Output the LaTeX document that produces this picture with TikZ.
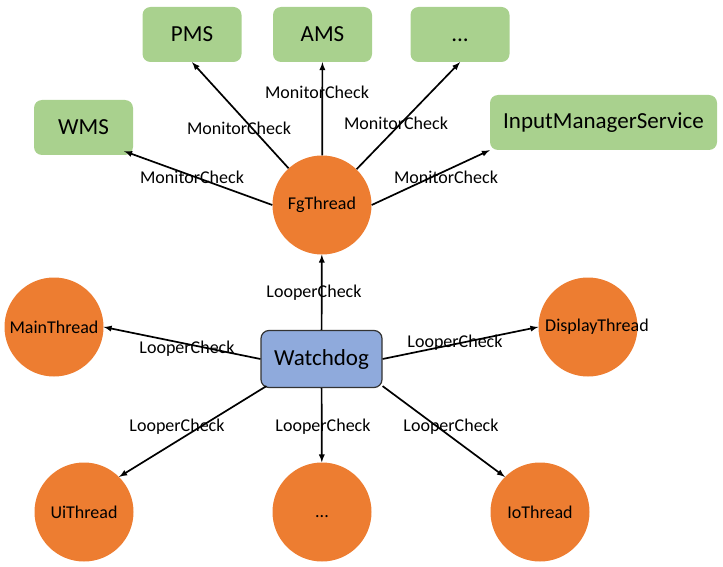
\documentclass[tikz,border=0pt]{standalone}
\usepackage{fontspec}
\setmainfont{Carlito}
\usetikzlibrary{arrows}
\usetikzlibrary{positioning}
\definecolor{LightGreen}{HTML}{A9D18E}
\definecolor{DarkOrange}{HTML}{ED7D31}
\definecolor{LightBlue}{HTML}{8FAADC}
\tikzset{
  service/.style={fill=LightGreen,rounded corners=8pt,minimum width=99pt,
    minimum height=55pt,inner sep=0pt,font=\fontsize{23}{26}\selectfont},
  thread/.style={circle,fill=DarkOrange,minimum size=99pt,inner sep=0pt,
    font=\fontsize{18}{20}\selectfont},
  dog/.style={draw=black!80,line width=1.2pt,fill=LightBlue,rounded corners=8pt,
    minimum width=121pt,minimum height=57pt,font=\fontsize{23}{26}\selectfont},
  check/.style={font=\fontsize{18}{20}\selectfont,inner sep=0pt},
  link/.style={line width=1.7pt,-latex}
}

\begin{document}
\begin{tikzpicture}[x=1pt,y=-1pt]
  \useasboundingbox (0,0) rectangle (723,567);

  % services
  \node[service] (PMS) at (192,34.5) {PMS};
  \node[service] (AMS) at (322.5,34.5) {AMS};
  \node[service] (More) at (460,34.5) {\vphantom{A}...};
  \node[service] (WMS) at (83.5,127.5) {WMS};
  \node[service,minimum width=227pt] (IMS) at (603.5,122.5) {InputManagerService};

  % threads
  \node[thread] (Fg) at (322,205) {FgThread};
  \node[thread] (Main) at (54,327) {MainThread};
  \node[thread] (Display) at (588,327) {\makebox[0pt]{\hspace{18pt}DisplayThread}};
  \node[thread] (Ui) at (84,512) {UiThread};
  \node[thread] (Dots) at (322,512) {\vphantom{T}...};
  \node[thread] (Io) at (540,512) {IoThread};

  \node[dog] (Watchdog) at (321.5,359) {Watchdog};

  % monitor checks
  \draw[link] (Fg.west) -- ([xshift=-9pt,yshift=4pt]WMS.south east);
  \draw[link] (Fg) -- (PMS.south);
  \draw[link] (Fg) -- (AMS);
  \draw[link] (Fg) -- (More.south);
  \draw[link] (Fg.east) -- (IMS.south west);

  \node[check] (mWMS) at (192,177) {MonitorCheck};
  \node[check] (mPMS) at (239,128) {MonitorCheck};
  \node[check] (mAMS) at (317,92) {MonitorCheck};
  \node[check] (mMore) at (396,123) {MonitorCheck};
  \node[check] (mIMS) at (446,177) {MonitorCheck};

  % looper checks
  \draw[link] (Watchdog) -- (Fg);
  \draw[link] (Watchdog.west) -- (Main.east);
  \draw[link] (Watchdog.east) -- (Display.west);
  \draw[link] ([xshift=6pt,yshift=2pt]Watchdog.south west) -- (Ui.north east);
  \draw[link] (Watchdog) -- (Dots);
  \draw[link] ([yshift=2pt]Watchdog.south east) -- (Io.north west);

  \node[check] (lFg) at (314,293) {LooperCheck};
  \node[check] (lMain) at (187,349) {LooperCheck};
  \node[check] (lDisplay) at (455,343) {LooperCheck};
  \node[check] (lUi) at (177,427) {LooperCheck};
  \node[check] (lDots) at (323,427) {LooperCheck};
  \node[check] (lIo) at (451,427) {LooperCheck};
\end{tikzpicture}
\end{document}
